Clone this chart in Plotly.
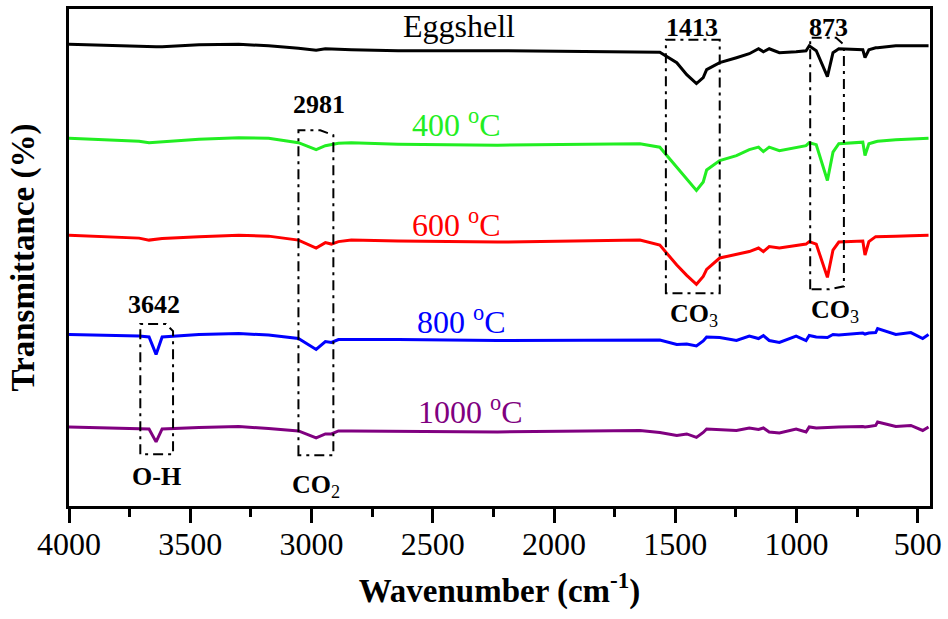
import plotly.graph_objects as go

# ---------------- data ----------------
wavenumber = [4000, 3711, 3670, 3641, 3616, 3464, 3300, 3177, 3054, 2981,
              2943, 2918, 2889, 2836, 2643, 2233, 1646, 1564, 1494, 1453,
              1413, 1385, 1371, 1317, 1248, 1195, 1157, 1137, 1113, 1071,
              1002, 961, 948, 919, 873, 850, 826, 727, 718, 702,
              674, 666, 591, 529, 480, 456]

eggshell = [92.9, 92.5, 92.3, 92.4, 92.4, 92.8, 92.9, 92.6, 92.1, 91.7,
            92.0, 91.9, 91.9, 91.8, 91.6, 91.6, 91.4, 91.3, 89.2, 86.8,
            85.0, 86.2, 87.8, 89.2, 90.2, 91.0, 92.0, 91.4, 92.0, 91.2,
            91.4, 91.6, 92.6, 91.6, 86.4, 91.2, 92.0, 91.8, 90.2, 91.8,
            92.2, 92.2, 92.6, 92.6, 92.6, 92.6]

t400 = [74.0, 73.4, 73.1, 73.2, 73.3, 73.8, 74.1, 74.0, 73.1, 71.7,
        72.5, 72.8, 73.0, 73.1, 72.8, 72.6, 72.9, 72.2, 68.2, 65.8,
        63.5, 65.2, 67.6, 69.5, 70.5, 71.7, 72.2, 71.3, 72.2, 71.5,
        72.2, 72.5, 73.1, 72.7, 65.5, 71.2, 72.9, 73.2, 70.5, 72.9,
        73.3, 73.4, 73.7, 73.8, 73.9, 74.0]

t600 = [54.5, 53.9, 53.5, 53.7, 53.8, 54.2, 54.5, 54.3, 53.5, 51.9,
        53.0, 52.7, 53.2, 53.5, 53.3, 53.1, 53.5, 52.5, 48.5, 46.4,
        44.6, 46.2, 47.6, 49.9, 50.7, 51.2, 51.9, 51.2, 52.2, 51.9,
        52.4, 52.7, 53.2, 52.7, 46.0, 51.5, 53.1, 53.3, 50.5, 53.2,
        54.2, 54.2, 54.3, 54.4, 54.5, 54.5]

t800 = [34.5, 34.2, 34.0, 30.5, 34.0, 34.5, 34.7, 34.4, 33.7, 31.5,
        33.1, 32.9, 33.5, 33.5, 33.5, 33.3, 33.5, 33.4, 32.5, 32.6,
        32.2, 33.2, 34.0, 33.9, 33.3, 34.2, 33.7, 34.3, 33.3, 32.9,
        34.2, 33.3, 34.3, 34.0, 33.9, 34.5, 34.4, 34.8, 34.6, 34.8,
        34.9, 35.7, 34.5, 34.9, 33.7, 34.5]

t1000 = [15.9, 15.6, 15.5, 12.9, 15.5, 15.8, 16.0, 15.6, 15.1, 13.7,
         14.5, 14.5, 15.1, 15.1, 15.0, 14.9, 15.2, 14.8, 14.2, 14.5,
         13.8, 14.8, 15.5, 15.4, 15.2, 15.7, 15.4, 15.7, 14.9, 14.7,
         15.5, 14.9, 15.9, 15.7, 15.8, 15.9, 15.9, 16.0, 15.9, 16.0,
         16.2, 16.9, 16.0, 16.2, 15.2, 15.9]

series_names = ["Eggshell", "400 <sup>o</sup>C", "600 <sup>o</sup>C",
                "800 <sup>o</sup>C", "1000 <sup>o</sup>C"]
series_values = [eggshell, t400, t600, t800, t1000]
series_colors = ["#000000", "#22EE22", "#FF0000", "#0000FF", "#800080"]

x_ticks = [4000, 3500, 3000, 2500, 2000, 1500, 1000, 500]

FONT = "Liberation Serif"

fig = go.Figure()
for name, vals, col in zip(series_names, series_values, series_colors):
    fig.add_trace(go.Scatter(x=wavenumber, y=vals, mode="lines", name=name,
                             line=dict(color=col, width=3), showlegend=False))

# curve labels
label_pos = [(2631, 96.6), (2594, 77.0), (2594, 57.0), (2573, 37.4), (2569, 19.4)]
for name, col, (lx, ly) in zip(series_names, series_colors, label_pos):
    fig.add_annotation(x=lx, y=ly, text=name, showarrow=False, xanchor="left",
                       yanchor="middle", font=dict(family=FONT, size=32, color=col))

# peak labels
peak_labels = [("<b>2981</b>", 2968, 80.8), ("<b>1413</b>", 1433, 96.2),
               ("<b>873</b>", 870, 96.2), ("<b>3642</b>", 3649, 40.6),
               ("<b>O-H</b>", 3641, 6.0), ("<b>CO</b><sub>2</sub>", 2980, 4.0),
               ("<b>CO</b><sub>3</sub>", 1424, 38.4), ("<b>CO</b><sub>3</sub>", 842, 39.2)]
for txt, lx, ly in peak_labels:
    fig.add_annotation(x=lx, y=ly, text=txt, showarrow=False, xanchor="center",
                       yanchor="middle", font=dict(family=FONT, size=26, color="black"))

# dash-dot boxes
boxes = [
    "M 3706,10.4 L 3706,36.6 L 3600,36.6 L 3571,35.2 L 3571,10.4 Z",
    "M 3054,10.2 L 3054,75.6 L 2964,75.6 L 2910,74.6 L 2910,10.2 Z",
    "M 1539,42.8 L 1539,93.8 L 1317,93.8 L 1317,42.8 Z",
    "M 944,43.6 L 944,94.2 L 837,94.2 L 805,92.8 L 805,44.2 L 866,43.6 Z",
]
for p in boxes:
    fig.add_shape(type="path", path=p, xref="x", yref="y",
                  line=dict(color="black", width=2, dash="10px,5px,3px,5px"))

fig.update_layout(
    width=948, height=619,
    margin=dict(l=69, r=14, t=6, b=113),
    paper_bgcolor="white", plot_bgcolor="white",
    font=dict(family=FONT, color="black"),
)
fig.update_xaxes(
    range=[4000, 450], tickvals=x_ticks, ticktext=[str(v) for v in x_ticks],
    ticks="outside", ticklen=14, tickwidth=2.5, tickcolor="black",
    ticklabelstandoff=-6,
    minor=dict(ticks="outside", ticklen=8, tickwidth=2.5, tickcolor="black", dtick=250, tick0=0),
    showline=True, linewidth=2.5, linecolor="black", mirror=True,
    showgrid=False, zeroline=False,
    tickfont=dict(family=FONT, size=32, color="black"),
    title=dict(text="<b>Wavenumber (cm<sup>-1</sup>)</b>",
               font=dict(family=FONT, size=33, color="black"), standoff=18),
)
fig.update_yaxes(
    range=[0, 100], showticklabels=False, ticks="",
    showline=True, linewidth=2.5, linecolor="black", mirror=True,
    showgrid=False, zeroline=False,
    title=dict(text="<b>Transmittance (%)</b>",
               font=dict(family=FONT, size=33, color="black"), standoff=22),
)

fig.write_html("out.html")
